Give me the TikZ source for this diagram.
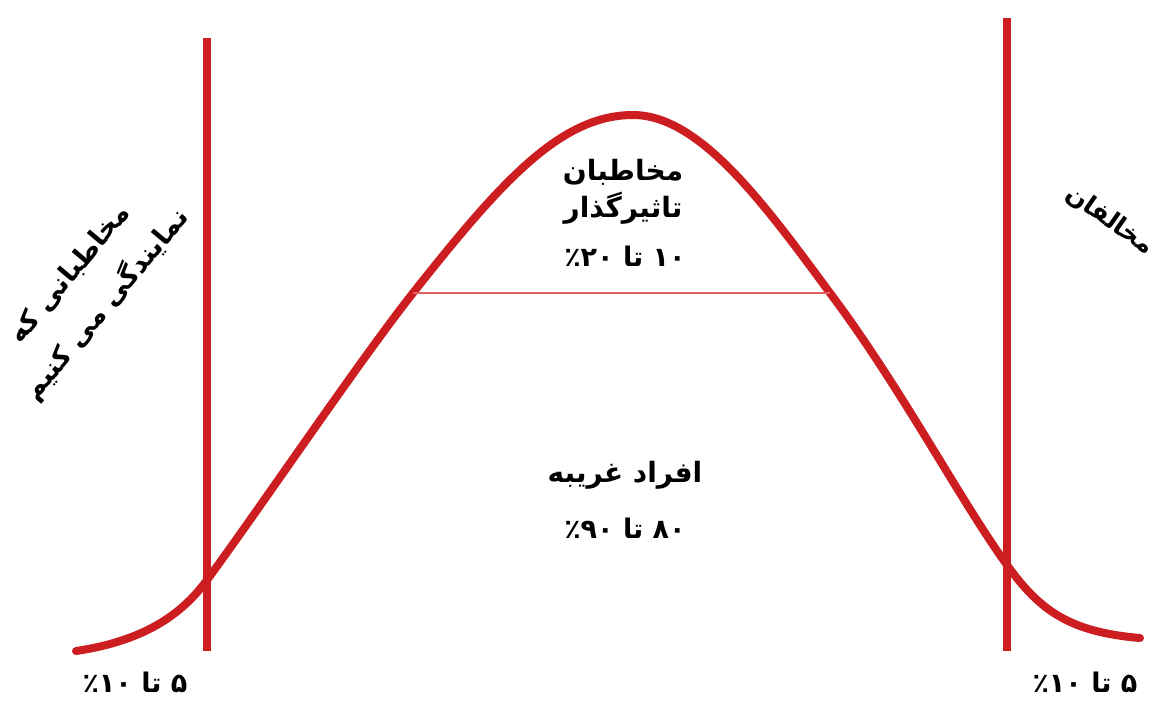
\documentclass[tikz,border=0pt]{standalone}
\usepackage{fontspec}
\TeXXeTstate=1
\newfontfamily\fa[Script=Arabic]{DejaVu Sans}
\definecolor{cred}{RGB}{204,30,32}
\definecolor{lred}{RGB}{226,96,96}
\begin{document}
\begin{tikzpicture}[x=1pt,y=-1pt,
  thick line/.style={cred,line width=8pt},
  lbl/.style={font=\fa\bfseries\fontsize{28}{36}\selectfont,align=center,inner sep=0pt,text=black},
  num/.style={font=\fa\bfseries\fontsize{27}{36}\selectfont,align=center,inner sep=0pt,text=black},
  big/.style={font=\fa\bfseries\fontsize{27}{48}\selectfont,align=center,inner sep=0pt,text=black}]
\useasboundingbox (0,0) rectangle (1159,702);
% vertical boundaries
\coordinate (L1) at (207,38);
\coordinate (L2) at (207,651);
\coordinate (R1) at (1007,18);
\coordinate (R2) at (1007,651);
\draw[thick line] (L1) -- (L2);
\draw[thick line] (R1) -- (R2);
% bell curve
\coordinate (c0) at (76,651);
\coordinate (c1) at (207,580);
\coordinate (c2) at (413,293);
\coordinate (c3) at (633,115);
\coordinate (c4) at (830,293);
\coordinate (c5) at (1007,565);
\coordinate (c6) at (1140,638);
\draw[thick line,line cap=round]
  (c0) .. controls (150,640) and (185,610) .. (c1)
       .. controls (260,508) and (360,360) .. (c2)
       .. controls (500,183) and (560,115) .. (c3)
       .. controls (700,115) and (765,205) .. (c4)
       .. controls (900,386) and (960,500) .. (c5)
       .. controls (1040,611) and (1070,632) .. (c6);
% thin split line
\draw[lred,line width=1.5pt] (c2) -- (c4);
% labels
\node[lbl] (t1) at (623,172) {مخاطبان};
\node[lbl] (t2) at (623,208) {تاثیرگذار};
\node[num] (t3) at (625,256) {\beginR ۱۰ تا ٪۲۰\endR};
\node[lbl] (m1) at (625,475) {\beginR افراد غریبه\endR};
\node[num] (m2) at (625,528) {\beginR ۸۰ تا ٪۹۰\endR};
\node[num] (b1) at (135,682) {\beginR ۵ تا ٪۱۰\endR};
\node[num] (b2) at (1085,682) {\beginR ۵ تا ٪۱۰\endR};
\node[big,rotate=50] (left) at (89,290) {\beginR مخاطبانی که\endR\\\beginR نمایندگی می کنیم\endR};
\node[font=\fa\bfseries\fontsize{25}{30}\selectfont,inner sep=0pt,rotate=-35] (right) at (1110,220) {مخالفان};
\end{tikzpicture}
\end{document}
